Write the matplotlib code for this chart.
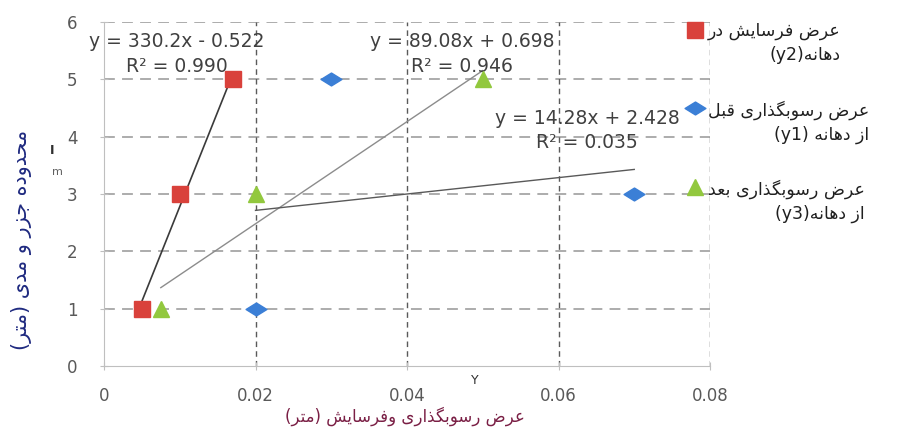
import re
import numpy as np
import matplotlib
matplotlib.use("Agg")
import matplotlib.pyplot as plt
from matplotlib.path import Path
from matplotlib.lines import Line2D

plt.rcParams['font.family'] = ['DejaVu Sans']

# data
x_y2 = [0.005, 0.010, 0.017]
y_y2 = [1, 3, 5]
x_y1 = [0.020, 0.030, 0.070]
y_y1 = [1, 5, 3]
x_y3 = [0.0075, 0.020, 0.050]
y_y3 = [1, 3, 5]

eq_y2 = "y = 330.2x - 0.522\nR² = 0.990"
eq_y3 = "y = 89.08x + 0.698\nR² = 0.946"
eq_y1 = "y = 14.28x + 2.428\nR² = 0.035"

lab_y2 = "عرض فرسایش در\nدهانه(y2)"
lab_y1 = "عرض رسوبگذاری قبل\nاز دهانه (y1)"
lab_y3 = "عرض رسوبگذاری بعد\nاز دهانه(y3)"
xlabel = "عرض رسوبگذاری وفرسایش (متر)"
ylabel = "محدوده جزر و مدی (متر)"

xticks = [0, 0.02, 0.04, 0.06, 0.08]
xtick_labels = ["0", "0.02", "0.04", "0.06", "0.08"]
yticks = [0, 1, 2, 3, 4, 5, 6]

# matplotlib has no arabic shaping / bidi, so do a small one by hand
FORMS = {  # isolated, final, initial, medial
    'ا': (0xFE8D, 0xFE8E, None, None),
    'ب': (0xFE8F, 0xFE90, 0xFE91, 0xFE92),
    'ت': (0xFE95, 0xFE96, 0xFE97, 0xFE98),
    'ج': (0xFE9D, 0xFE9E, 0xFE9F, 0xFEA0),
    'ح': (0xFEA1, 0xFEA2, 0xFEA3, 0xFEA4),
    'د': (0xFEA9, 0xFEAA, None, None),
    'ذ': (0xFEAB, 0xFEAC, None, None),
    'ر': (0xFEAD, 0xFEAE, None, None),
    'ز': (0xFEAF, 0xFEB0, None, None),
    'س': (0xFEB1, 0xFEB2, 0xFEB3, 0xFEB4),
    'ش': (0xFEB5, 0xFEB6, 0xFEB7, 0xFEB8),
    'ض': (0xFEBD, 0xFEBE, 0xFEBF, 0xFEC0),
    'ع': (0xFEC9, 0xFECA, 0xFECB, 0xFECC),
    'ف': (0xFED1, 0xFED2, 0xFED3, 0xFED4),
    'ق': (0xFED5, 0xFED6, 0xFED7, 0xFED8),
    'ل': (0xFEDD, 0xFEDE, 0xFEDF, 0xFEE0),
    'م': (0xFEE1, 0xFEE2, 0xFEE3, 0xFEE4),
    'ن': (0xFEE5, 0xFEE6, 0xFEE7, 0xFEE8),
    'ه': (0xFEE9, 0xFEEA, 0xFEEB, 0xFEEC),
    'و': (0xFEED, 0xFEEE, None, None),
    'ی': (0xFBFC, 0xFBFD, 0xFBFE, 0xFBFF),
    'گ': (0xFB92, 0xFB93, 0xFB94, 0xFB95),
}


def shape_line(s):
    out = []
    for i, c in enumerate(s):
        if c not in FORMS:
            out.append(c)
            continue
        prev = s[i-1] if i > 0 else ''
        nxt = s[i+1] if i + 1 < len(s) else ''
        jp = prev in FORMS and FORMS[prev][2] is not None
        jn = FORMS[c][2] is not None and nxt in FORMS
        f = FORMS[c]
        code = f[3] if (jp and jn) else f[1] if jp else f[2] if jn else f[0]
        out.append(chr(code))
    vis = ''.join(out)[::-1]
    vis = re.sub(r'[A-Za-z0-9]+', lambda m: m.group(0)[::-1], vis)
    return vis.translate(str.maketrans('()', ')('))


def fa(s):
    return '\n'.join(shape_line(l) for l in s.split('\n'))


flat_diamond = Path([(-1, 0), (0, 0.62), (1, 0), (0, -0.62), (-1, 0)],
                    [Path.MOVETO, Path.LINETO, Path.LINETO, Path.LINETO, Path.CLOSEPOLY])

W, H = 917, 428
fig = plt.figure(figsize=(W/100, H/100), dpi=100)
ax = fig.add_axes([104/W, 1-366/H, (710-104)/W, (366-22)/H])

# trend lines
for xs, ys, col, lw in [(x_y2, y_y2, '#3a3a3a', 1.2),
                        (x_y3, y_y3, '#8c8c8c', 1.0),
                        (x_y1, y_y1, '#595959', 1.0)]:
    k, b = np.polyfit(xs, ys, 1)
    xx = np.array([min(xs), max(xs)])
    ax.plot(xx, k*xx + b, color=col, lw=lw, zorder=3)

red, blue, green = '#d9413b', '#3b7fd6', '#92c83e'
ax.plot(x_y2, y_y2, 's', color=red, ms=11, ls='none', zorder=4)
ax.plot(x_y1, y_y1, marker=flat_diamond, color=blue, ms=15, ls='none', zorder=4)
ax.plot(x_y3, y_y3, '^', color=green, ms=11, ls='none', zorder=4)

ax.set_xlim(0, 0.08)
ax.set_ylim(0, 6)
ax.set_xticks(xticks)
ax.set_xticklabels(xtick_labels)
ax.set_yticks(yticks)

for y in yticks[1:]:
    ax.axhline(y, color='#a6a6a6', lw=1.3, dashes=(6, 4), zorder=1)
for x in xticks[1:]:
    ax.axvline(x, color='#5a5a5a', lw=1.0, dashes=(4, 3), zorder=1)

for s in ['top', 'right']:
    ax.spines[s].set_visible(False)
for s in ['left', 'bottom']:
    ax.spines[s].set_color('#bfbfbf')
ax.tick_params(axis='both', colors='#bfbfbf', labelcolor='#595959', labelsize=12,
               direction='inout', length=6)
ax.tick_params(axis='y', pad=16)
ax.tick_params(axis='x', pad=12)

eq_kw = dict(ha='center', va='center', fontsize=13.5, color='#404040', linespacing=1.35)
ax.text(0.00965, 5.44, eq_y2, **eq_kw)
ax.text(0.0473, 5.44, eq_y3, **eq_kw)
ax.text(0.0638, 4.11, eq_y1, **eq_kw)

fig.text(405/W, 1-416/H, fa(xlabel), ha='center', va='center', fontsize=12, color='#7a1f45')
fig.text(22/W, 1-240/H, fa(ylabel), ha='center', va='center', rotation=90,
         fontsize=15, color='#1f2a80')
fig.text(475/W, 1-381/H, 'Y', ha='center', va='center', fontsize=9, color='#303030')
fig.text(52/W, 1-150/H, 'I', ha='center', va='center', fontsize=9, weight='bold', color='#303030')
fig.text(57/W, 1-172/H, 'm', ha='center', va='center', fontsize=8, color='#606060')

# legend, drawn by hand: marker beside the first line, lines right aligned
legend_items = [(lab_y2, 's', red, 11, 30),
                (lab_y1, flat_diamond, blue, 15, 108),
                (lab_y3, '^', green, 11, 187)]
for lab, mk, col, ms, ypx in legend_items:
    fig.add_artist(Line2D([695/W], [1-ypx/H], transform=fig.transFigure, marker=mk,
                          color=col, ms=ms, ls='none'))
    fig.text(708/W, 1-(ypx-8)/H, fa(lab), ha='left', va='top', fontsize=12.5,
             multialignment='right', color='#202020', linespacing=1.45)

fig.savefig('out.png', dpi=100)
